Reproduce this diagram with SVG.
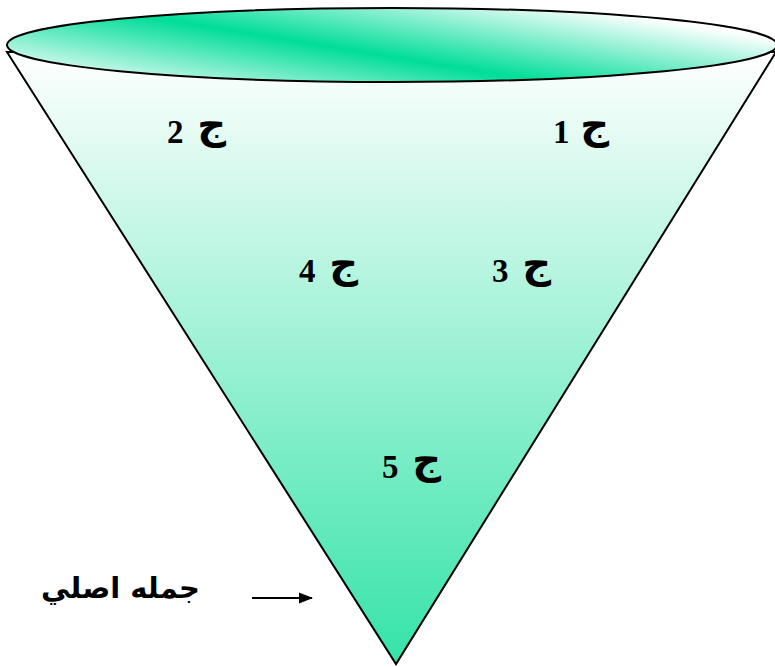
<svg xmlns="http://www.w3.org/2000/svg" width="775" height="667" viewBox="0 0 775 667">
<defs>
<linearGradient id="cone" x1="0" y1="0" x2="0" y2="1">
<stop offset="0" stop-color="#ffffff"/>
<stop offset="1" stop-color="#35e3a8"/>
</linearGradient>
<linearGradient id="top" gradientUnits="userSpaceOnUse" x1="379" y1="136" x2="405" y2="-22">
<stop offset="0" stop-color="#ffffff"/>
<stop offset="0.5" stop-color="#00dd99"/>
<stop offset="1" stop-color="#ffffff"/>
</linearGradient>
<marker id="arr" markerWidth="14" markerHeight="14" refX="13" refY="7" orient="auto" markerUnits="userSpaceOnUse">
<path d="M0,1.5 L14,7 L0,12.5 Z" fill="#000"/>
</marker>
<style>
.num{font-family:"Liberation Serif","DejaVu Serif",serif;font-size:33px;font-weight:bold;fill:#000}
.jim{font-family:"DejaVu Sans",sans-serif;font-size:40px;font-weight:bold;fill:#000}
.main{font-family:"DejaVu Sans",sans-serif;font-size:29px;font-weight:bold;fill:#000}
</style>
</defs>
<g id="cone-body">
<path d="M7,52 L396,664 L776,52 Z" fill="url(#cone)" stroke="#000" stroke-width="2"/>
</g>
<g id="cone-top">
<ellipse cx="392" cy="45" rx="385" ry="37" fill="url(#top)" stroke="#000" stroke-width="2"/>
</g>
<g id="n1"><text class="num" x="553" y="143">1</text><text class="jim" x="609" y="138" text-anchor="end">ج</text></g>
<g id="n2"><text class="num" x="167" y="143">2</text><text class="jim" x="226" y="138" text-anchor="end">ج</text></g>
<g id="n3"><text class="num" x="492" y="282">3</text><text class="jim" x="551" y="277" text-anchor="end">ج</text></g>
<g id="n4"><text class="num" x="299" y="282">4</text><text class="jim" x="358" y="277" text-anchor="end">ج</text></g>
<g id="n5"><text class="num" x="382" y="478">5</text><text class="jim" x="441" y="473" text-anchor="end">ج</text></g>
<g id="main-label"><text class="main" x="200" y="598" text-anchor="start" direction="rtl">جمله اصلي</text></g>
<g id="connectors">
<line x1="252" y1="598" x2="312" y2="598" stroke="#000" stroke-width="2" marker-end="url(#arr)"/>
</g>
</svg>
